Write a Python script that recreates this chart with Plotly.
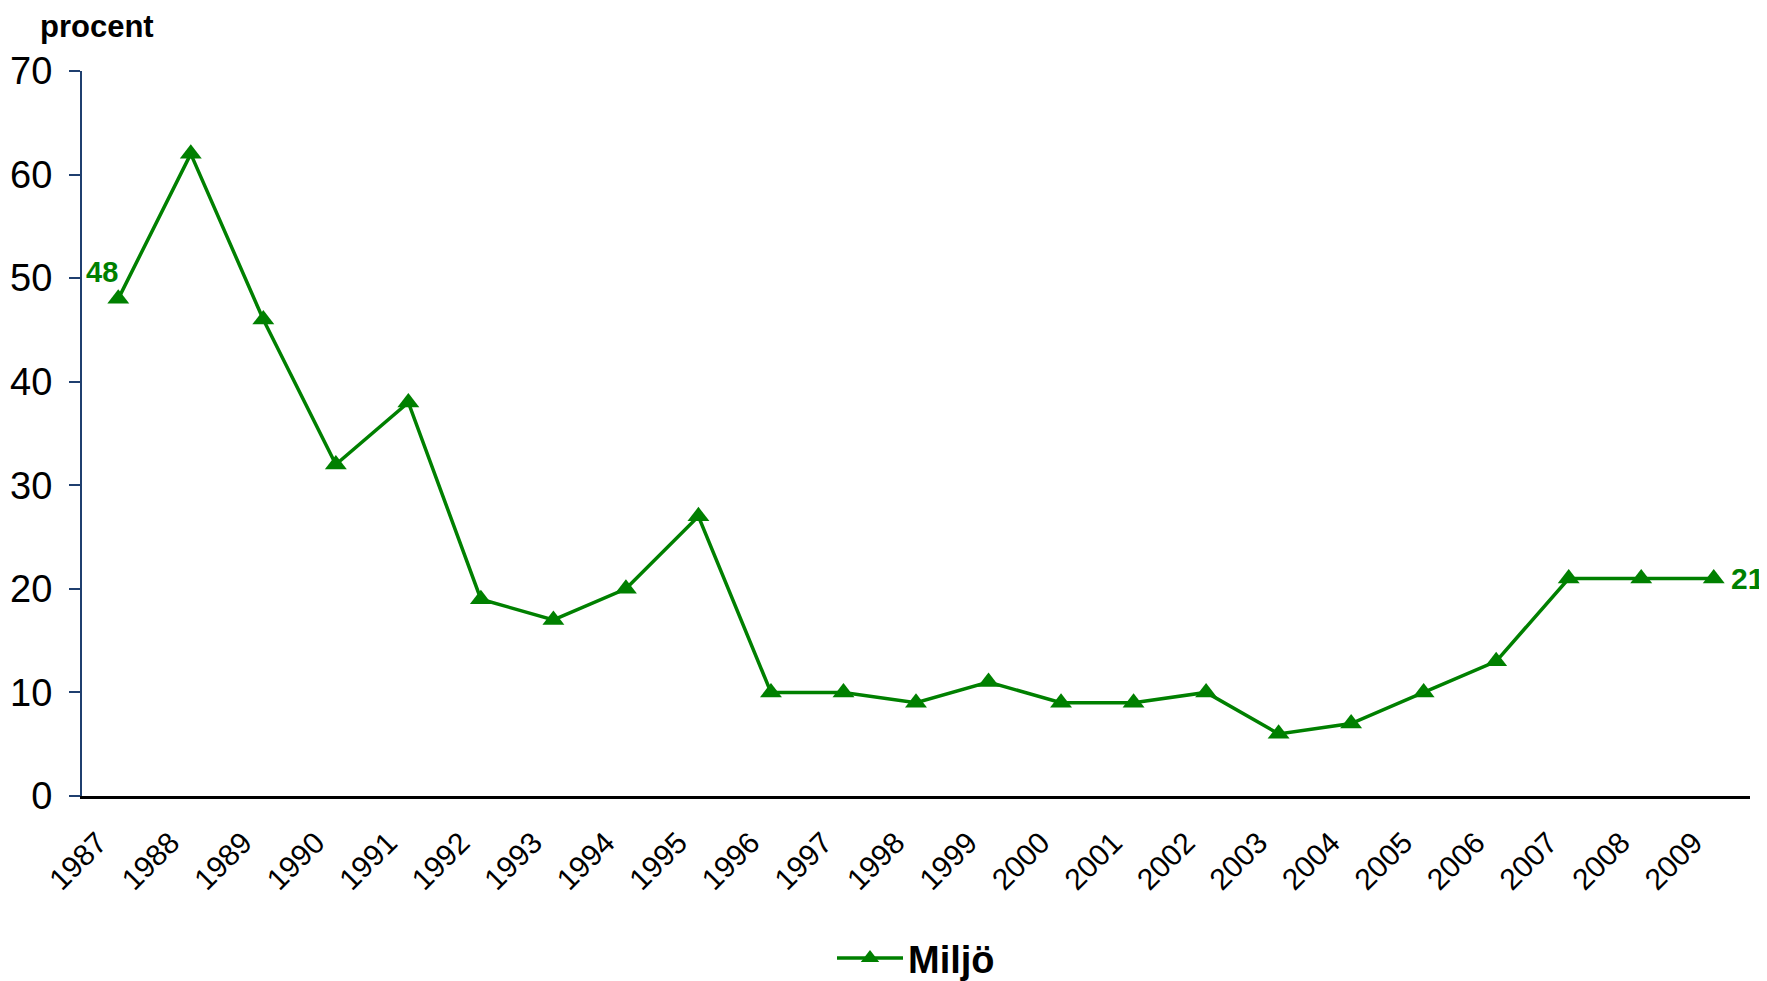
import plotly.graph_objects as go

years = [str(y) for y in range(1987, 2010)]
miljo = [48, 62, 46, 32, 38, 19, 17, 20, 27, 10, 10, 9, 11, 9, 9, 10, 6, 7, 10, 13, 21, 21, 21]
y_ticks = [0, 10, 20, 30, 40, 50, 60, 70]

GREEN = "#008000"
FONT = "Liberation Sans, Arial, sans-serif"

fig = go.Figure()
fig.add_trace(go.Scatter(
    x=years, y=miljo, mode="lines+markers", name="<b>Miljö</b>",
    line=dict(color=GREEN, width=3.5),
    marker=dict(symbol="triangle-up", size=19, color=GREEN),
    cliponaxis=False,
))

first, last = 0, len(years) - 1
fig.add_annotation(x=first, y=miljo[first], text="<b>%d</b>" % miljo[first],
                   showarrow=False, xanchor="right", yanchor="middle",
                   xshift=2, yshift=27, font=dict(size=29, color=GREEN, family=FONT))
fig.add_annotation(x=last, y=miljo[last], text="<b>%d</b>" % miljo[last],
                   showarrow=False, xanchor="left", yanchor="middle",
                   xshift=15, yshift=0, font=dict(size=30, color=GREEN, family=FONT))
fig.add_annotation(xref="paper", yref="paper", x=-0.026, y=1 + 63 / 725, text="<b>procent</b>",
                   showarrow=False, xanchor="left", yanchor="top", borderpad=0,
                   font=dict(size=31, color="black", family=FONT))

fig.update_layout(
    width=1759, height=973,
    margin=dict(l=74, r=17, t=63, b=185, autoexpand=False),
    paper_bgcolor="white", plot_bgcolor="white",
    font=dict(family=FONT, color="black"),
    showlegend=True,
    legend=dict(orientation="h", x=0.5, xanchor="center", y=-0.224, yanchor="middle",
                font=dict(size=38, family=FONT), itemwidth=66),
    xaxis=dict(type="category", range=[-0.5, 22.5], showgrid=False, automargin=False,
               showline=True, linecolor="black", linewidth=3,
               ticks="", tickangle=-45, tickfont=dict(size=30, family=FONT),
               ticklabelstandoff=14, ticklabelshift=-20),
    yaxis=dict(range=[0, 70], tickvals=y_ticks, showgrid=False, zeroline=False, automargin=False,
               showline=True, linecolor="#1F3F6F", linewidth=2,
               ticks="outside", ticklen=11, tickwidth=2, tickcolor="#1F3F6F",
               ticklabelstandoff=9, tickfont=dict(size=38, family=FONT)),
)
fig.write_html("out.html")
